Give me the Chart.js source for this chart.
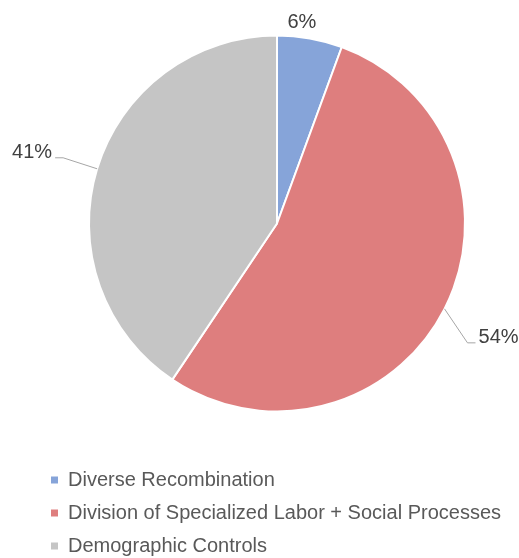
<!DOCTYPE html>
<html>
<head>
<meta charset="utf-8">
<script src="https://cdn.jsdelivr.net/npm/chart.js@4.4.1/dist/chart.umd.min.js"></script>
<style>
  html, body { margin: 0; padding: 0; background: #fff; }
  #wrap { position: relative; width: 519px; height: 558px; }
</style>
</head>
<body>
<div id="wrap"><canvas id="graf"></canvas></div>
<script>
const graf = document.getElementById("graf")

const categorias = ['Diverse Recombination', 'Division of Specialized Labor + Social Processes', 'Demographic Controls']
const valores = [5.6, 53.8, 40.6]
const rotulos = ['6%', '54%', '41%']
const cores = ['#86a4d9', '#de7e7e', '#c5c5c5']

// label placement relative to the outer edge of each slice (mid angle)
const posRotulos = [
    { dx: -8, dy: -10, linha: false },
    { dx: 23, dy: 34, linha: true },
    { dx: -34, dy: -11, linha: true }
]

// percentage labels with leader lines
const rotulosPlugin = {
    id: 'rotulos',
    afterDatasetsDraw(chart) {
        const ctx = chart.ctx
        const meta = chart.getDatasetMeta(0)
        ctx.save()
        ctx.font = '20px "Liberation Sans", Arial, sans-serif'
        ctx.fillStyle = '#404040'
        ctx.strokeStyle = '#a6a6a6'
        ctx.lineWidth = 1
        ctx.textBaseline = 'alphabetic'
        meta.data.forEach((arc, i) => {
            const { x, y, startAngle, endAngle, outerRadius } = arc.getProps(['x', 'y', 'startAngle', 'endAngle', 'outerRadius'], true)
            const meio = (startAngle + endAngle) / 2
            const bx = x + Math.cos(meio) * outerRadius
            const by = y + Math.sin(meio) * outerRadius
            const p = posRotulos[i]
            const ex = bx + p.dx
            const ey = by + p.dy
            if (!p.linha) {
                ctx.textAlign = 'center'
                ctx.fillText(rotulos[i], ex, ey)
                return
            }
            const lado = p.dx > 0 ? 1 : -1
            ctx.beginPath()
            ctx.moveTo(bx, by)
            ctx.lineTo(ex, ey)
            ctx.lineTo(ex + lado * 8, ey)
            ctx.stroke()
            ctx.textAlign = lado > 0 ? 'left' : 'right'
            ctx.fillText(rotulos[i], ex + lado * 11, ey)
        })
        ctx.restore()
    }
}

new Chart(graf, {
    type: 'pie',
    data: {
        labels: categorias,
        datasets: [{
            data: valores,
            backgroundColor: cores,
            borderColor: '#ffffff',
            borderWidth: 2,
            hoverOffset: 0
        }]
    },
    options: {
        responsive: true,
        maintainAspectRatio: false,
        animation: false,
        radius: 188,
        layout: {
            padding: { top: 0, left: 38, right: 3, bottom: -8 }
        },
        plugins: {
            legend: {
                position: 'bottom',
                align: 'start',
                // empty title only adds a gap above the legend rows
                title: {
                    display: true,
                    text: '',
                    font: { size: 10, lineHeight: 1 },
                    padding: 0
                },
                labels: {
                    boxWidth: 7,
                    boxHeight: 7,
                    padding: 13,
                    color: '#595959',
                    font: { family: '"Liberation Sans", Arial, sans-serif', size: 20 },
                    // solid squares, without the white slice border
                    generateLabels: (chart) =>
                        Chart.overrides.pie.plugins.legend.labels.generateLabels(chart)
                            .map(item => ({ ...item, lineWidth: 0 }))
                }
            },
            tooltip: { enabled: false }
        }
    },
    plugins: [rotulosPlugin]
})
</script>
</body>
</html>
